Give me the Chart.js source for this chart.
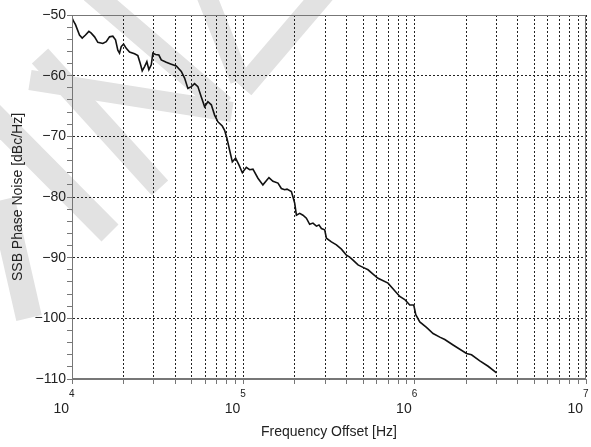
<!doctype html>
<html lang="en">
  <head>
    <meta charset="utf-8">
    <title>SSB Phase Noise</title>
    <script src="https://cdn.jsdelivr.net/npm/chart.js"></script>
    <style>
      html, body { margin: 0; padding: 0; background: #fff; }
    </style>
  </head>
  <body>
    <canvas id="noiseChart" width="591" height="447"></canvas>

    <script type="text/javascript">
      // offset frequency [Hz]
      var offsetHz = [
        1.000e4, 1.011e4, 1.048e4, 1.106e4, 1.147e4, 1.199e4, 1.254e4, 1.295e4, 1.354e4, 1.415e4,
        1.513e4, 1.584e4, 1.656e4, 1.731e4, 1.795e4, 1.851e4, 1.894e4, 1.938e4, 2.000e4, 2.073e4,
        2.167e4, 2.318e4, 2.423e4, 2.503e4, 2.570e4, 2.652e4, 2.735e4, 2.810e4, 2.902e4, 2.965e4,
        3.075e4, 3.214e4, 3.319e4, 3.549e4, 3.797e4, 4.061e4, 4.345e4, 4.541e4, 4.747e4, 4.969e4,
        5.194e4, 5.430e4, 5.684e4, 5.941e4, 6.211e4, 6.503e4, 6.797e4, 7.106e4, 7.538e4, 7.775e4,
        8.020e4, 8.318e4, 8.625e4, 9.016e4, 9.425e4, 9.867e4, 1.041e5, 1.088e5, 1.138e5, 1.217e5,
        1.301e5, 1.411e5, 1.489e5, 1.593e5, 1.667e5, 1.743e5, 1.798e5, 1.907e5, 1.949e5, 1.994e5,
        2.040e5, 2.133e5, 2.229e5, 2.333e5, 2.439e5, 2.549e5, 2.669e5, 2.764e5, 2.855e5, 2.985e5,
        3.054e5, 3.266e5, 3.494e5, 3.737e5, 3.997e5, 4.178e5, 4.368e5, 4.671e5, 4.996e5, 5.344e5,
        5.715e5, 6.113e5, 6.991e5, 8.185e5, 8.754e5, 9.363e5, 9.880e5, 1.015e6, 1.071e6, 1.172e6,
        1.281e6, 1.402e6, 1.499e6, 1.676e6, 2.007e6, 2.147e6, 2.401e6, 2.684e6, 3.005e6
      ];

      // SSB phase noise [dBc/Hz]
      var phaseNoise = [
        -50.6, -50.8, -51.6, -53.3, -53.8, -53.3, -52.7, -53.0, -53.6, -54.5,
        -54.7, -54.4, -53.6, -53.5, -54.1, -55.8, -56.3, -55.2, -54.8, -55.5,
        -56.1, -56.4, -56.7, -58.0, -59.2, -58.5, -57.7, -59.0, -58.2, -56.3,
        -56.5, -56.6, -57.4, -57.8, -58.1, -58.4, -59.3, -60.4, -62.1, -61.8,
        -61.3, -61.8, -63.5, -65.1, -64.3, -64.8, -66.5, -67.6, -68.3, -69.0,
        -70.3, -72.3, -74.2, -73.6, -74.7, -76.0, -75.1, -75.5, -75.4, -76.9,
        -78.0, -76.8, -77.4, -77.7, -78.6, -78.8, -78.7, -79.1, -80.0, -81.0,
        -83.0, -82.7, -83.0, -83.5, -84.5, -84.3, -84.8, -84.6, -85.2, -85.4,
        -86.8, -87.4, -87.9, -88.6, -89.6, -89.9, -90.4, -91.2, -91.6, -92.0,
        -92.7, -93.4, -94.2, -96.4, -96.9, -97.8, -97.8, -99.4, -100.6, -101.5,
        -102.5, -103.1, -103.5, -104.4, -105.8, -106.0, -107.0, -107.9, -109.0
      ];

      // axis ticks
      var decadeExps = [4, 5, 6, 7];
      var mantissas = [1, 2, 3, 4, 5, 6, 7, 8, 9];
      var yMin = -110, yMax = -50, yMinorStep = 2, yLabelStep = 10;

      var fontFamily = "'Liberation Sans', Arial, Helvetica, sans-serif";
      var textColor = '#222';

      // light grey watermark strokes behind the plot (canvas px: x1, y1, x2, y2, width)
      var watermark = [
        [91, -8, 224, 106, 22],
        [30, 80, 232, 112, 20],
        [40, 56, 160, 188, 22],
        [205, -8, 240, 80, 20],
        [325, -8, 243, 88, 22],
        [-12, 110, 110, 233, 24],
        [2, 200, 29, 318, 26]
      ];

      var xTickValues = [];
      decadeExps.forEach(function (e, i) {
        if (i === decadeExps.length - 1) {
          xTickValues.push(Math.pow(10, e));
          return;
        }
        mantissas.forEach(function (m) { xTickValues.push(m * Math.pow(10, e)); });
      });

      var points = offsetHz.map(function (f, i) { return { x: f, y: phaseNoise[i] }; });

      var watermarkPlugin = {
        id: 'watermark',
        beforeDraw: function (chart) {
          var ctx = chart.ctx;
          ctx.save();
          ctx.strokeStyle = '#e2e2e2';
          ctx.lineCap = 'butt';
          watermark.forEach(function (s) {
            ctx.lineWidth = s[4];
            ctx.beginPath();
            ctx.moveTo(s[0], s[1]);
            ctx.lineTo(s[2], s[3]);
            ctx.stroke();
          });
          ctx.restore();
        }
      };

      // box round the plot + "10^n" labels with raised exponent
      var framePlugin = {
        id: 'frame',
        afterDraw: function (chart) {
          var ctx = chart.ctx, a = chart.chartArea, xs = chart.scales.x;
          ctx.save();
          ctx.strokeStyle = '#777';
          ctx.lineWidth = 1;
          ctx.strokeRect(Math.round(a.left) + 0.5, Math.round(a.top) + 0.5,
                         Math.round(a.right - a.left) - 1, Math.round(a.bottom - a.top) - 1);

          ctx.fillStyle = textColor;
          ctx.textBaseline = 'alphabetic';
          decadeExps.forEach(function (e) {
            var px = xs.getPixelForValue(Math.pow(10, e));
            ctx.font = '14px ' + fontFamily;
            ctx.textAlign = 'right';
            ctx.fillText('10', px - 3, a.bottom + 34);
            ctx.font = '10px ' + fontFamily;
            ctx.textAlign = 'left';
            ctx.fillText(String(e), px - 3, a.bottom + 18);
          });
          ctx.restore();
        }
      };

      var ctx = document.getElementById('noiseChart').getContext('2d');
      var chart = new Chart(ctx, {
        type: 'line',
        data: {
          datasets: [{
            label: 'SSB Phase Noise',
            data: points,
            borderColor: '#111',
            borderWidth: 1.6,
            pointRadius: 0,
            tension: 0,
            fill: false
          }]
        },
        options: {
          responsive: false,
          animation: false,
          layout: { padding: { left: 0, right: 5, top: 15, bottom: 0 } },
          plugins: {
            legend: { display: false },
            tooltip: { enabled: false }
          },
          scales: {
            x: {
              type: 'logarithmic',
              min: 1e4,
              max: 1e7,
              afterBuildTicks: function (scale) {
                scale.ticks = xTickValues.map(function (v) { return { value: v }; });
              },
              afterFit: function (scale) { scale.height = 68; },
              ticks: {
                autoSkip: false,
                maxRotation: 0,
                callback: function () { return ''; }
              },
              grid: {
                color: '#222',
                lineWidth: 1,
                tickLength: 5,
                tickColor: '#777',
                tickBorderDash: []
              },
              border: { display: true, color: '#777', width: 1, dash: [2, 2] },
              title: {
                display: true,
                text: 'Frequency Offset [Hz]',
                color: textColor,
                font: { family: fontFamily, size: 14 },
                padding: { top: 0, bottom: 6 }
              }
            },
            y: {
              type: 'linear',
              min: yMin,
              max: yMax,
              afterFit: function (scale) { scale.width = 72; },
              ticks: {
                stepSize: yMinorStep,
                autoSkip: false,
                padding: 1,
                color: textColor,
                font: { family: fontFamily, size: 14 },
                callback: function (v) {
                  if (v % yLabelStep !== 0) return '';
                  return v < 0 ? '\u2212' + Math.abs(v) : String(v);
                }
              },
              grid: {
                color: function (c) {
                  return c.tick && c.tick.value % yLabelStep === 0 ? '#222' : 'rgba(0,0,0,0)';
                },
                lineWidth: 1,
                tickLength: 5,
                tickColor: '#777',
                tickBorderDash: []
              },
              border: { display: true, color: '#777', width: 1, dash: [2, 2] },
              title: {
                display: true,
                text: 'SSB Phase Noise [dBc/Hz]',
                color: textColor,
                font: { family: fontFamily, size: 14 },
                padding: { top: 10, bottom: 0 }
              }
            }
          }
        },
        plugins: [watermarkPlugin, framePlugin]
      });
    </script>
  </body>
</html>
